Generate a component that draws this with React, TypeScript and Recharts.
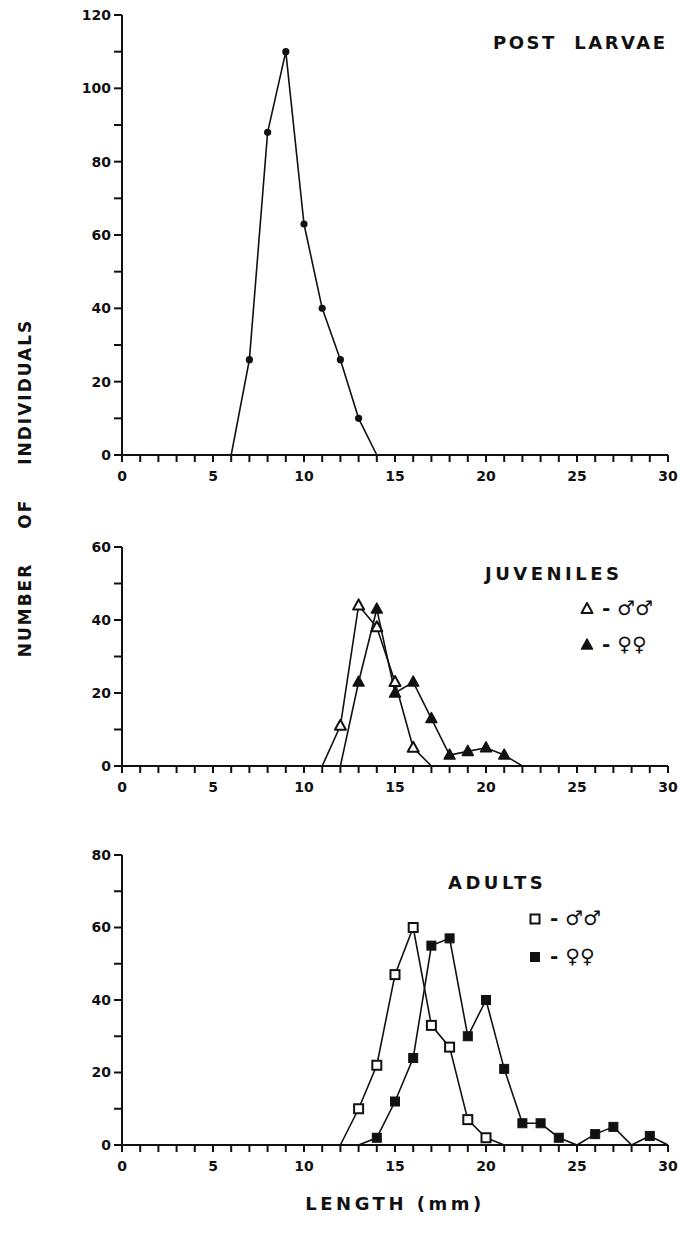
import React from 'react';
import { LineChart, Line, XAxis, YAxis } from 'recharts';

// Length-frequency data (length in mm, number of individuals)
const postLarvaeLength = [6, 7, 8, 9, 10, 11, 12, 13, 14];
const postLarvaeCount = [0, 26, 88, 110, 63, 40, 26, 10, 0];

const juvenileMaleLength = [11, 12, 13, 14, 15, 16, 17];
const juvenileMaleCount = [0, 11, 44, 38, 23, 5, 0];
const juvenileFemaleLength = [12, 13, 14, 15, 16, 17, 18, 19, 20, 21, 22];
const juvenileFemaleCount = [0, 23, 43, 20, 23, 13, 3, 4, 5, 3, 0];

const adultMaleLength = [12, 13, 14, 15, 16, 17, 18, 19, 20, 21];
const adultMaleCount = [0, 10, 22, 47, 60, 33, 27, 7, 2, 0];
const adultFemaleLength = [13, 14, 15, 16, 17, 18, 19, 20, 21, 22, 23, 24, 25, 26, 27, 28, 29, 30];
const adultFemaleCount = [0, 2, 12, 24, 55, 57, 30, 40, 21, 6, 6, 2, 0, 3, 5, 0, 2.5, 0];

const lengthTicks = Array.from({ length: 31 }, (_, i) => i);
const postLarvaeTicks = [0, 10, 20, 30, 40, 50, 60, 70, 80, 90, 100, 110, 120];
const juvenileTicks = [0, 10, 20, 30, 40, 50, 60];
const adultTicks = [0, 10, 20, 30, 40, 50, 60, 70, 80];

const FONT = '"DejaVu Sans", sans-serif';
const INK = '#111';

const toPoints = (xs: number[], ys: number[]) => xs.map((length, i) => ({ length, count: ys[i] }));

type Marker = 'circle' | 'triangleOpen' | 'triangleFilled' | 'squareOpen' | 'squareFilled';

function MarkerShape({ kind, cx, cy }: { kind: Marker; cx: number; cy: number }) {
  if (kind === 'circle') return <circle cx={cx} cy={cy} r={3.6} fill={INK} />;
  if (kind === 'triangleOpen' || kind === 'triangleFilled') {
    const h = 10;
    const w = 11;
    const d = `M${cx},${cy - h * 0.6} L${cx + w / 2},${cy + h * 0.4} L${cx - w / 2},${cy + h * 0.4} Z`;
    return kind === 'triangleOpen'
      ? <path d={d} fill="#fff" stroke={INK} strokeWidth={2} strokeLinejoin="round" />
      : <path d={d} fill={INK} stroke={INK} strokeWidth={1.5} strokeLinejoin="round" />;
  }
  const s = 9;
  return kind === 'squareOpen'
    ? <rect x={cx - s / 2} y={cy - s / 2} width={s} height={s} fill="#fff" stroke={INK} strokeWidth={2} />
    : <rect x={cx - s / 2} y={cy - s / 2} width={s} height={s} fill={INK} stroke={INK} strokeWidth={1} />;
}

// zero counts are only line ends, no marker drawn there
const makeDot = (kind: Marker) => (props: any) => {
  const { cx, cy, value, index } = props;
  if (!value || cx == null || cy == null) return <g key={`d-${index}`} />;
  return <g key={`d-${index}`}><MarkerShape kind={kind} cx={cx} cy={cy} /></g>;
};

const tickStyle = { fill: INK, fontSize: 14, fontFamily: FONT, fontWeight: 700 };
const axisStroke = { stroke: INK, strokeWidth: 2 };

function Panel({
  top, height, yMax, yTicks, children,
}: {
  top: number; height: number; yMax: number; yTicks: number[]; children: React.ReactNode;
}) {
  return (
    <div style={{ position: 'absolute', left: 0, top }}>
      <LineChart width={682} height={height} margin={{ top: 15, right: 14, bottom: 0, left: 0 }}>
        <XAxis
          type="number"
          dataKey="length"
          domain={[0, 30]}
          ticks={lengthTicks}
          interval={0}
          tickFormatter={(v: number) => (v % 5 === 0 ? String(v) : '')}
          tick={tickStyle}
          tickSize={7}
          tickMargin={9}
          axisLine={axisStroke}
          tickLine={axisStroke}
          height={35}
          allowDuplicatedCategory={false}
        />
        <YAxis
          type="number"
          domain={[0, yMax]}
          ticks={yTicks}
          interval={0}
          tickFormatter={(v: number) => (v % 20 === 0 ? String(v) : '')}
          tick={tickStyle}
          tickSize={8}
          tickMargin={3}
          axisLine={axisStroke}
          tickLine={axisStroke}
          width={122}
        />
        {children}
      </LineChart>
    </div>
  );
}

const lineProps = {
  type: 'linear' as const,
  dataKey: 'count',
  stroke: INK,
  strokeWidth: 1.6,
  isAnimationActive: false,
  activeDot: false as const,
};

const titleStyle: React.CSSProperties = {
  position: 'absolute',
  fontFamily: FONT,
  fontSize: 18,
  fontWeight: 700,
  letterSpacing: 3.5,
  color: INK,
  whiteSpace: 'nowrap',
  lineHeight: 1,
};

function LegendRow({ top, left, kind, label }: { top: number; left: number; kind: Marker; label: string }) {
  return (
    <div style={{ ...titleStyle, top, left, fontSize: 20, letterSpacing: 0, display: 'flex', alignItems: 'center' }}>
      <svg width={14} height={14} style={{ marginRight: 8 }}>
        <MarkerShape kind={kind} cx={7} cy={8} />
      </svg>
      <span>{label}</span>
    </div>
  );
}

export default function App() {
  return (
    <div style={{ position: 'absolute', left: 0, top: 0, width: 682, height: 1238, background: '#fff' }}>
      <Panel top={0} height={490} yMax={120} yTicks={postLarvaeTicks}>
        <Line {...lineProps} data={toPoints(postLarvaeLength, postLarvaeCount)} dot={makeDot('circle')} />
      </Panel>
      <Panel top={532} height={269} yMax={60} yTicks={juvenileTicks}>
        <Line {...lineProps} data={toPoints(juvenileMaleLength, juvenileMaleCount)} dot={makeDot('triangleOpen')} />
        <Line {...lineProps} data={toPoints(juvenileFemaleLength, juvenileFemaleCount)} dot={makeDot('triangleFilled')} />
      </Panel>
      <Panel top={840} height={340} yMax={80} yTicks={adultTicks}>
        <Line {...lineProps} data={toPoints(adultMaleLength, adultMaleCount)} dot={makeDot('squareOpen')} />
        <Line {...lineProps} data={toPoints(adultFemaleLength, adultFemaleCount)} dot={makeDot('squareFilled')} />
      </Panel>

      <div style={{ ...titleStyle, top: 34, left: 493, letterSpacing: 2.5 }}>POST&nbsp; LARVAE</div>
      <div style={{ ...titleStyle, top: 565, left: 485 }}>JUVENILES</div>
      <LegendRow top={598} left={580} kind="triangleOpen" label="- ♂♂" />
      <LegendRow top={634} left={580} kind="triangleFilled" label="- ♀♀" />
      <div style={{ ...titleStyle, top: 874, left: 448 }}>ADULTS</div>
      <LegendRow top={908} left={528} kind="squareOpen" label="- ♂♂" />
      <LegendRow top={946} left={528} kind="squareFilled" label="- ♀♀" />

      <div
        style={{
          ...titleStyle,
          fontSize: 17,
          letterSpacing: 2,
          left: 25,
          top: 488,
          transform: 'translate(-50%, -50%) rotate(-90deg)',
          wordSpacing: 26,
        }}
      >
        NUMBER OF INDIVIDUALS
      </div>
      <div style={{ ...titleStyle, left: 395, top: 1195, transform: 'translateX(-50%)' }}>LENGTH (mm)</div>
    </div>
  );
}
